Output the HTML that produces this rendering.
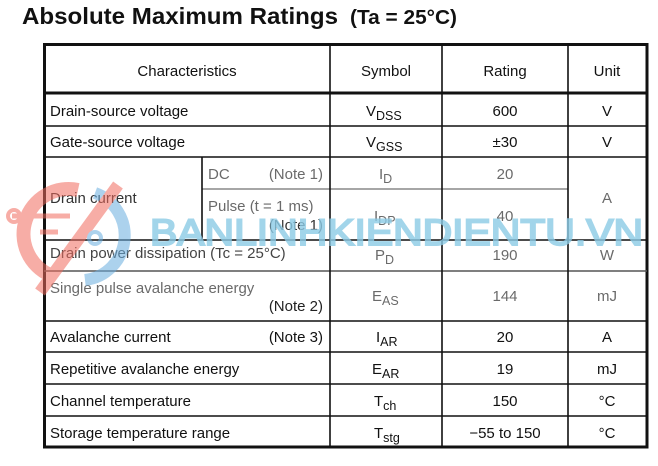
<!DOCTYPE html>
<html><head><meta charset="utf-8"><style>
html,body{margin:0;padding:0;background:#fff;width:658px;height:466px;overflow:hidden}
svg{display:block}
text{font-family:"Liberation Sans",Arial,sans-serif;font-size:15px;fill:#111}
.g{fill:#6a6a6a}
.m{text-anchor:middle}
.s{font-size:12.5px}
</style></head><body>
<svg width="658" height="466" viewBox="0 0 658 466" xmlns="http://www.w3.org/2000/svg">
<text x="22" y="24" style="font-size:23.5px;font-weight:bold" textLength="316" lengthAdjust="spacingAndGlyphs">Absolute Maximum Ratings</text>
<text x="350" y="24" style="font-size:20px;font-weight:bold" textLength="107" lengthAdjust="spacingAndGlyphs">(Ta = 25°C)</text>
<g stroke="#111" fill="none">
<rect x="44.5" y="44.5" width="602.5" height="402.5" stroke-width="3"/>
<line x1="44" y1="93" x2="647" y2="93" stroke-width="3"/>
<g stroke-width="1.6">
<line x1="44" y1="126" x2="647" y2="126"/>
<line x1="44" y1="157" x2="647" y2="157"/>
<line x1="202" y1="189" x2="568" y2="189" stroke="#888"/>
<line x1="44" y1="240" x2="647" y2="240"/>
<line x1="44" y1="271" x2="647" y2="271" stroke="#555"/>
<line x1="44" y1="321" x2="647" y2="321"/>
<line x1="44" y1="352" x2="647" y2="352"/>
<line x1="44" y1="384" x2="647" y2="384"/>
<line x1="44" y1="416" x2="647" y2="416"/>
<line x1="330" y1="44" x2="330" y2="447"/>
<line x1="442" y1="44" x2="442" y2="447"/>
<line x1="568" y1="44" x2="568" y2="447"/>
<line x1="202" y1="157" x2="202" y2="240"/>
</g></g>
<text x="187" y="76" class="m">Characteristics</text>
<text x="386" y="76" class="m">Symbol</text>
<text x="505" y="76" class="m">Rating</text>
<text x="607" y="76" class="m">Unit</text>

<text x="50" y="116">Drain-source voltage</text>
<text x="366" y="116">V<tspan dy="4" class="s">DSS</tspan></text>
<text x="505" y="116" class="m">600</text>
<text x="607" y="116" class="m">V</text>

<text x="50" y="147">Gate-source voltage</text>
<text x="366" y="147">V<tspan dy="4" class="s">GSS</tspan></text>
<text x="505" y="147" class="m">±30</text>
<text x="607" y="147" class="m">V</text>

<text x="50" y="203" fill="#333" style="fill:#333">Drain current</text>
<text x="208" y="179" class="g">DC</text>
<text x="323" y="179" class="g" text-anchor="end">(Note 1)</text>
<text x="379" y="179" class="g">I<tspan dy="4" class="s g">D</tspan></text>
<text x="505" y="179" class="m g">20</text>
<text x="607" y="203" class="m g">A</text>
<text x="208" y="211" class="g">Pulse (t = 1 ms)</text>
<text x="323" y="230" class="g" text-anchor="end" style="fill:#333">(Note 1)</text>
<text x="374" y="221" class="g">I<tspan dy="4" class="s g">DP</tspan></text>
<text x="505" y="221" class="m g">40</text>
<text x="50" y="258" style="fill:#444">Drain power dissipation (Tc = 25°C)</text>
<text x="375" y="260" class="g">P<tspan dy="4" class="s g">D</tspan></text>
<text x="505" y="260" class="m g">190</text>
<text x="607" y="260" class="m g">W</text>
<text x="50" y="293" class="g">Single pulse avalanche energy</text>
<text x="323" y="311" text-anchor="end" style="fill:#222">(Note 2)</text>
<text x="372" y="301" class="g">E<tspan dy="4" class="s g">AS</tspan></text>
<text x="505" y="301" class="m g">144</text>
<text x="607" y="301" class="m g">mJ</text>

<text x="50" y="342">Avalanche current</text>
<text x="323" y="342" text-anchor="end">(Note 3)</text>
<text x="376" y="342">I<tspan dy="4" class="s">AR</tspan></text>
<text x="505" y="342" class="m">20</text>
<text x="607" y="342" class="m">A</text>

<text x="50" y="374">Repetitive avalanche energy</text>
<text x="372" y="374">E<tspan dy="4" class="s">AR</tspan></text>
<text x="505" y="374" class="m">19</text>
<text x="607" y="374" class="m">mJ</text>

<text x="50" y="406">Channel temperature</text>
<text x="374" y="406">T<tspan dy="4" class="s">ch</tspan></text>
<text x="505" y="406" class="m">150</text>
<text x="607" y="406" class="m">°C</text>

<text x="50" y="438">Storage temperature range</text>
<text x="374" y="438">T<tspan dy="4" class="s">stg</tspan></text>
<text x="505" y="438" class="m">−55 to 150</text>
<text x="607" y="438" class="m">°C</text>

<!-- watermark -->
<g opacity="0.55">
<path d="M78 190 A45 45 0 0 0 50 275" stroke="#f26b5e" stroke-width="14" fill="none"/>
<path d="M95 193 A45 45 0 0 1 85 280" stroke="#6aaee0" stroke-width="12" fill="none"/>
<line x1="40" y1="292" x2="118" y2="185" stroke="#f26b5e" stroke-width="12"/>
<line x1="12" y1="216" x2="70" y2="216" stroke="#f26b5e" stroke-width="5"/>
<circle cx="14" cy="216" r="6" fill="none" stroke="#f26b5e" stroke-width="4"/>
<line x1="40" y1="232" x2="58" y2="232" stroke="#f26b5e" stroke-width="5"/>
<circle cx="95" cy="238" r="6" fill="none" stroke="#6aaee0" stroke-width="4"/>
</g>
<text x="150" y="245" style="font-size:37px;fill:#8ccbe6;stroke:#8ccbe6;stroke-width:2;opacity:0.8" textLength="493" lengthAdjust="spacingAndGlyphs">BANLINHKIENDIENTU.VN</text>
</svg>
</body></html>
